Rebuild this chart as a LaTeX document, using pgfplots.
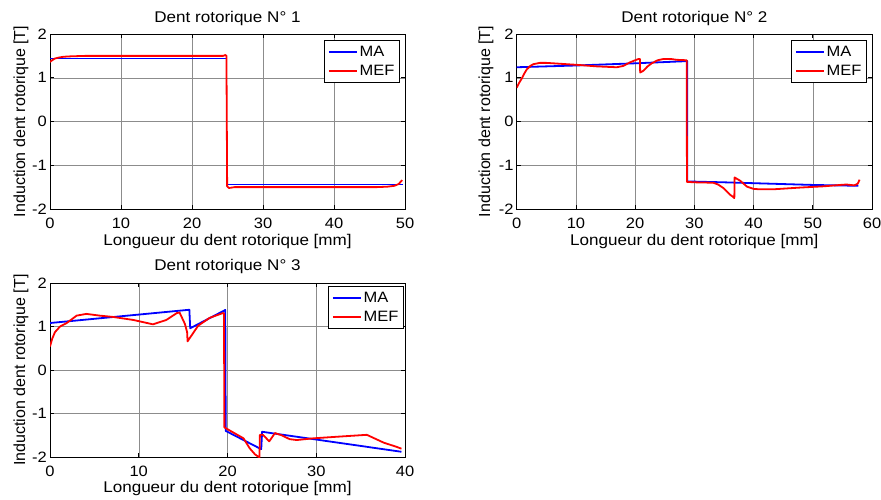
\documentclass[border=0pt]{standalone}
\usepackage{fontspec}
\setmainfont{Liberation Sans}[FakeStretch=1.1]
\newfontfamily\ylabfont{Liberation Sans}
\usepackage{pgfplots}
\pgfplotsset{compat=1.18}
\definecolor{gridc}{gray}{0.55}
\pgfplotsset{
 mstyle/.style={
  scale only axis, anchor=south west,
  ymin=-2, ymax=2, ytick={-2,-1,0,1,2}, yticklabels={-2,-1,0,1,2},
  grid=major, grid style={gridc, line width=0.5bp},
  axis line style={black, line width=0.9bp},
  tick align=inside, major tick length=4bp, tick style={black, line width=0.7bp},
  /pgf/number format/assume math mode=true,
  ticklabel style={font=\fontsize{15bp}{17bp}\selectfont},
  xticklabel style={anchor=base, yshift=-19bp, inner sep=0pt},
  yticklabel style={anchor=east, xshift=-3bp, inner sep=0pt},
  title style={at={(axis description cs:0.5,1)}, anchor=base, yshift=5.2bp, inner sep=0pt, font=\fontsize{15.5bp}{18bp}\selectfont},
  xlabel style={at={(axis description cs:0.5,0)}, anchor=base, yshift=-36bp, inner sep=0pt, font=\fontsize{15.5bp}{18bp}\selectfont},
  ylabel style={anchor=base, inner sep=0pt, font=\ylabfont\fontsize{16bp}{18bp}\selectfont},
  xlabel={Longueur du dent rotorique [mm]},
  ylabel={Induction dent rotorique [T]},
  legend style={at={(axis description cs:1,1)}, anchor=north east, xshift=-5bp, yshift=-6bp, draw=black, line width=0.9bp, font=\fontsize{15bp}{17bp}\selectfont, inner xsep=3bp, inner ysep=3.5bp, row sep=3bp, nodes={inner sep=2bp}},
  legend cell align=left,
  legend image code/.code={\draw[#1, line width=1.8bp] (0bp,0bp) -- (28bp,0bp);},
 },
 ma/.style={color={rgb,1:red,0;green,0;blue,1}, line width=1.8bp, line join=round},
 mef/.style={color={rgb,1:red,1;green,0;blue,0}, line width=1.8bp, line join=round},
}
\begin{document}
\begin{tikzpicture}[x=1bp,y=1bp]
\path[use as bounding box] (0,0) rectangle (881,-500);
% ---------- subplot 1
\begin{axis}[mstyle, at={(50bp,-209bp)}, width=355bp, height=175bp,
  xmin=0, xmax=50, xtick={0,10,20,30,40,50},
  title={Dent rotorique N° 1},
  ylabel style={at={(axis description cs:-0.0704,0.5)}}]
\addplot[ma] coordinates {(0,1.44) (24.85,1.44) (24.85,-1.44) (49.7,-1.44)};
\addplot[mef] coordinates {(0,1.36) (0.3,1.40) (0.7,1.44) (1.2,1.46) (1.9,1.48) (3,1.49) (5,1.50) (24.4,1.50) (24.7,1.52) (24.85,1.50) (24.95,-1.48) (25.2,-1.52) (26,-1.50) (46,-1.50) (47.5,-1.49) (48.5,-1.47) (49.1,-1.43) (49.6,-1.34)};
\legend{MA,MEF}
\end{axis}
% ---------- subplot 2
\begin{axis}[mstyle, at={(516.7bp,-209bp)}, width=355.3bp, height=175bp,
  xmin=0, xmax=60, xtick={0,10,20,30,40,50,60},
  title={Dent rotorique N° 2},
  ylabel style={at={(axis description cs:-0.075,0.5)}}]
\addplot[ma] coordinates {(0,1.24) (10,1.28) (20,1.33) (28.8,1.38) (28.8,-1.37) (35,-1.39) (40,-1.41) (50,-1.45) (57.7,-1.47)};
\addplot[mef] coordinates {(0,0.77) (0.4,0.88) (0.84,0.98) (1.3,1.10) (1.7,1.19) (2.3,1.27) (2.8,1.31) (3.9,1.34) (5,1.34) (7.3,1.32) (10.7,1.29) (13.5,1.26) (16.9,1.24) (18.0,1.27) (19.1,1.35) (20.0,1.40) (20.6,1.43) (20.8,1.43) (20.85,1.12) (21.4,1.16) (22.1,1.26) (22.8,1.33) (23.8,1.40) (24.8,1.43) (26,1.43) (27.0,1.41) (28.7,1.40) (28.75,-1.38) (30,-1.39) (33.2,-1.40) (34.0,-1.44) (34.9,-1.52) (36.0,-1.67) (36.6,-1.73) (36.75,-1.75) (36.8,-1.28) (37.7,-1.35) (38.9,-1.49) (40,-1.54) (41,-1.55) (43.3,-1.55) (47.9,-1.51) (52,-1.48) (54.6,-1.45) (55.7,-1.44) (57.0,-1.46) (57.6,-1.42) (57.9,-1.33)};
\legend{MA,MEF}
\end{axis}
% ---------- subplot 3
\begin{axis}[mstyle, at={(50bp,-457bp)}, width=355bp, height=174bp,
  xmin=0, xmax=40, xtick={0,10,20,30,40},
  title={Dent rotorique N° 3}, title style={yshift=1.3bp},
  xlabel style={yshift=1bp},
  ylabel style={at={(axis description cs:-0.0704,0.5)}},
  legend style={xshift=4bp, yshift=3bp}]
\addplot[ma] coordinates {(0,1.08) (15.7,1.385) (15.8,0.96) (19.75,1.38) (19.8,-1.40) (23.8,-1.82) (23.9,-1.42) (39.6,-1.88)};
\addplot[mef] coordinates {(0,0.54) (0.25,0.72) (0.56,0.87) (1.13,1.0) (1.88,1.08) (3.0,1.25) (4.1,1.29) (5.6,1.25) (7.1,1.22) (9.4,1.15) (11.6,1.05) (13.1,1.15) (14.3,1.31) (14.6,1.32) (15.2,1.06) (15.45,0.87) (15.5,0.66) (16.7,1.02) (18.0,1.2) (19.5,1.31) (19.6,1.30) (19.65,-1.32) (21.8,-1.57) (22.5,-1.80) (23.1,-1.94) (23.6,-2.01) (23.65,-1.49) (24.0,-1.49) (24.7,-1.64) (25.35,-1.45) (26.1,-1.50) (27.0,-1.59) (27.8,-1.61) (29.7,-1.57) (31.9,-1.54) (35.7,-1.49) (37.6,-1.67) (39.1,-1.77) (39.6,-1.81)};
\legend{MA,MEF}
\end{axis}
\end{tikzpicture}
\end{document}
